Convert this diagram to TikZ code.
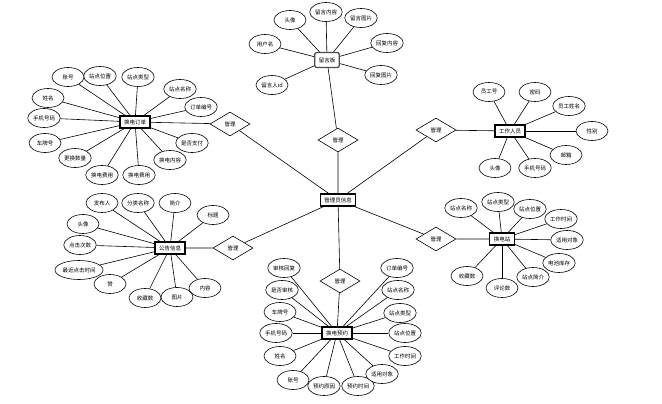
\documentclass[tikz,border=0pt]{standalone}
\usepackage{fontspec}
\setmainfont{Noto Sans CJK SC}
\usetikzlibrary{shapes.geometric}

\begin{document}
\begin{tikzpicture}[x=1pt, y=-1pt,
    font=\fontsize{5.5}{6}\selectfont,
    attr/.style={draw, ellipse, fill=white, line width=0.6pt, inner xsep=0.5pt, inner ysep=1pt,
                 minimum height=19pt, minimum width=32pt},
    ent/.style={draw, rectangle, fill=white, line width=1.1pt, minimum height=12pt, inner xsep=4pt},
    rel/.style={draw, diamond, fill=white, line width=0.6pt, aspect=1.7, inner sep=0pt,
                minimum width=40pt, minimum height=24pt},
    every path/.style={line width=0.6pt}]
  \useasboundingbox (0,0) rectangle (662,404);

  % Entities
  \node[ent] (admin)   at (338,200) {管理员信息};
  \node[ent, rounded corners=2pt, draw=black!70, line width=1.3pt, minimum height=15pt] (msg) at (327,60) {留言板};
  \node[ent] (order)   at (135,122) {换电订单};
  \node[ent] (staff)   at (510,131) {工作人员};
  \node[ent] (station) at (502,239) {换电站};
  \node[ent] (notice)  at (170,248) {公告信息};
  \node[ent] (booking) at (337,333) {换电预约};

  % Relations
  \node[rel] (r1) at (338,140) {管理};
  \node[rel] (r2) at (230,124) {管理};
  \node[rel] (r3) at (436,130) {管理};
  \node[rel] (r4) at (436,239) {管理};
  \node[rel] (r5) at (233,248) {管理};
  \node[rel] (r6) at (340,281) {管理};
  \draw (msg) -- (r1) -- (admin);
  \draw (order) -- (r2) -- (admin);
  \draw (staff) -- (r3) -- (admin);
  \draw (station) -- (r4) -- (admin);
  \draw (notice) -- (r5) -- (admin);
  \draw (booking) -- (r6) -- (admin);

  % Message board
  \node[attr] (m1) at (290,20) {头像};
  \node[attr] (m2) at (326,12) {留言内容};
  \node[attr] (m3) at (361,18) {留言图片};
  \node[attr] (m4) at (265,44) {用户名};
  \node[attr] (m5) at (387,43) {回复内容};
  \node[attr] (m6) at (381,75) {回复图片};
  \node[attr] (m7) at (272,85) {留言人id};
  \foreach \i in {1,...,7} \draw (m\i) -- (msg);

  % Order
  \node[attr] (o1) at (68,77) {账号};
  \node[attr] (o2) at (100,76) {站点位置};
  \node[attr] (o3) at (138,77) {站点类型};
  \node[attr] (o4) at (180,89) {站点名称};
  \node[attr] (o5) at (201,107) {订单编号};
  \node[attr] (o6) at (48,98) {姓名};
  \node[attr] (o7) at (44,118) {手机号码};
  \node[attr] (o8) at (45,143) {车牌号};
  \node[attr] (o9) at (75,158) {更换数量};
  \node[attr] (o10) at (192,143) {是否支付};
  \node[attr] (o11) at (170,160) {换电内容};
  \node[attr] (o12) at (102,175) {换电费用};
  \node[attr] (o13) at (139,175) {换电费用};
  \foreach \i in {1,...,13} \draw (o\i) -- (order);

  % Staff
  \node[attr] (s1) at (489,92) {员工号};
  \node[attr] (s2) at (535,92) {密码};
  \node[attr] (s3) at (569,106) {员工姓名};
  \node[attr] (s4) at (592,131) {性别};
  \node[attr] (s5) at (566,155) {邮箱};
  \node[attr] (s6) at (495,168) {头像};
  \node[attr] (s7) at (535,168) {手机号码};
  \foreach \i in {1,...,7} \draw (s\i) -- (staff);

  % Station
  \node[attr] (t1) at (461,208) {站点名称};
  \node[attr] (t2) at (498,202) {站点类型};
  \node[attr] (t3) at (530,209) {站点位置};
  \node[attr] (t4) at (561,219) {工作时间};
  \node[attr] (t5) at (567,240) {适用对象};
  \node[attr] (t6) at (559,263) {电池库存};
  \node[attr] (t7) at (533,277) {站点简介};
  \node[attr] (t8) at (502,288) {评论数};
  \node[attr] (t9) at (467,276) {收藏数};
  \foreach \i in {1,...,9} \draw (t\i) -- (station);

  % Notice
  \node[attr] (n1) at (102,203) {发布人};
  \node[attr] (n2) at (138,203) {分类名称};
  \node[attr] (n3) at (175,203) {简介};
  \node[attr] (n4) at (213,215) {标题};
  \node[attr] (n5) at (83,224) {头像};
  \node[attr] (n6) at (80,245) {点击次数};
  \node[attr] (n7) at (79,270) {最近点击时间};
  \node[attr] (n8) at (110,284) {赞};
  \node[attr] (n9) at (145,298) {收藏数};
  \node[attr] (n10) at (177,297) {图片};
  \node[attr] (n11) at (205,288) {内容};
  \foreach \i in {1,...,11} \draw (n\i) -- (notice);

  % Booking
  \node[attr] (b1) at (284,268) {审核回复};
  \node[attr] (b2) at (282,290) {是否审核};
  \node[attr] (b3) at (280,312) {车牌号};
  \node[attr] (b4) at (276,333) {手机号码};
  \node[attr] (b5) at (280,356) {姓名};
  \node[attr] (b6) at (293,380) {账号};
  \node[attr] (b7) at (324,386) {预约原因};
  \node[attr] (b8) at (358,386) {预约时间};
  \node[attr] (b9) at (397,268) {订单编号};
  \node[attr] (b10) at (398,290) {站点名称};
  \node[attr] (b11) at (400,313) {站点类型};
  \node[attr] (b12) at (405,333) {站点位置};
  \node[attr] (b13) at (405,356) {工作时间};
  \node[attr] (b14) at (382,374) {适用对象};
  \foreach \i in {1,...,14} \draw (b\i) -- (booking);
\end{tikzpicture}
\end{document}
